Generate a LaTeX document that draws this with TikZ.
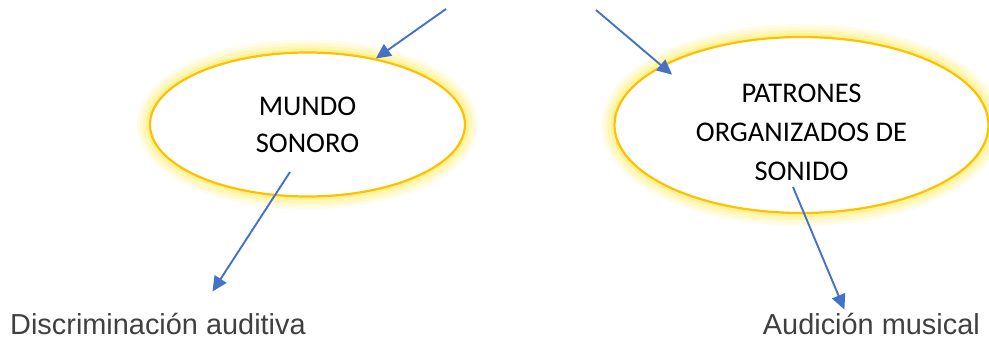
\documentclass[tikz,border=0pt]{standalone}
\usepackage{fontspec}
\setmainfont{Carlito}
\newfontfamily\labelfont{Liberation Sans}
\usepackage{xcolor}
\usetikzlibrary{shapes.geometric,arrows.meta,positioning}
\definecolor{arrowblue}{HTML}{4472C4}
\definecolor{ringgold}{HTML}{FFC000}
\definecolor{glowyellow}{HTML}{FFEB50}
\definecolor{labelgray}{HTML}{404040}

\begin{document}
\begin{tikzpicture}[x=1pt,y=-1pt,
  idea/.style={ellipse,draw=ringgold,line width=2.2pt,fill=white,inner sep=0pt,align=center,font=\fontsize{28.5}{37}\selectfont},
  arr/.style={draw=arrowblue,line width=1.9pt,-{Triangle[length=15pt,width=14pt]}},
  result/.style={font=\labelfont\fontsize{28.9}{34}\selectfont,text=labelgray,inner sep=0pt}]
\useasboundingbox (0,0) rectangle (989,344);
% glow
\foreach \w/\o in {26/0.12,20/0.15,14/0.2,8/0.3}{
  \draw[glowyellow,line width=\w pt,opacity=\o] (307.5,124.5) ellipse (157.5pt and 72pt);
  \draw[glowyellow,line width=\w pt,opacity=\o] (801.5,125) ellipse (187pt and 88pt);
}
\node[idea,minimum width=315pt,minimum height=144pt] (mundo) at (307.5,124.5) {MUNDO\\SONORO};
\node[idea,minimum width=374pt,minimum height=176pt,font=\fontsize{28.5}{39}\selectfont] (patrones) at (801.5,125) {\rule{0pt}{33pt}PATRONES\\ORGANIZADOS DE\\SONIDO};
\node[result,anchor=base west] (discrim) at (10,335) {Discriminación auditiva};
\node[result,anchor=base east] (audicion) at (980,335) {Audición musical};
\coordinate (src1) at (446,9);
\coordinate (src2) at (596,10);
\draw[arr] (src1) -- (mundo.44);
\draw[arr,shorten >=-14pt] (src2) -- (patrones.157);
\draw[arr] ([shift={(-17.5,47.5)}]mundo.center) -- ([xshift=54.5pt,yshift=22pt]discrim.north);
\draw[arr] ([shift={(-8.5,62)}]patrones.center) -- ([xshift=-27pt,yshift=4pt]audicion.north);
\end{tikzpicture}
\end{document}
